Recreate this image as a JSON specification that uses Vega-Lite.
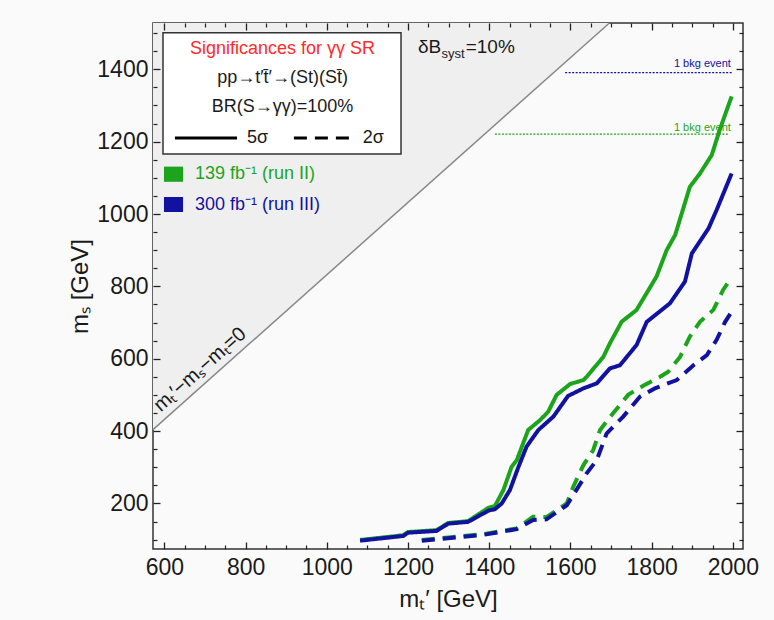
{
  "$schema": "https://vega.github.io/schema/vega-lite/v6.json",
  "width": 590,
  "height": 526,
  "autosize": {"type": "none"},
  "padding": {"left": 153, "top": 23, "right": 31, "bottom": 71},
  "background": "#fafafa",
  "config": {
    "view": {"stroke": "#333333", "strokeWidth": 1.5},
    "axis": {
      "domain": false, "grid": false,
      "labelFont": "Liberation Sans, Arial, sans-serif", "labelFontSize": 23, "labelColor": "#1a1a1a",
      "titleFont": "Liberation Sans, Arial, sans-serif", "titleFontSize": 24, "titleFontWeight": "normal",
      "titleColor": "#1a1a1a", "labelOverlap": false
    },
    "text": {"font": "Liberation Sans, Arial, sans-serif"}
  },
  "datasets": {
    "tri": [{"x": 572, "y": 404}, {"x": 1696, "y": 1528}],
    "curves": [
      {"lumi": "139", "sigma": "5σ", "x": 1082, "y": 99},
      {"lumi": "139", "sigma": "5σ", "x": 1188, "y": 112},
      {"lumi": "139", "sigma": "5σ", "x": 1200, "y": 121},
      {"lumi": "139", "sigma": "5σ", "x": 1270, "y": 126},
      {"lumi": "139", "sigma": "5σ", "x": 1299, "y": 146},
      {"lumi": "139", "sigma": "5σ", "x": 1348, "y": 151},
      {"lumi": "139", "sigma": "5σ", "x": 1398, "y": 188},
      {"lumi": "139", "sigma": "5σ", "x": 1414, "y": 193},
      {"lumi": "139", "sigma": "5σ", "x": 1435, "y": 237},
      {"lumi": "139", "sigma": "5σ", "x": 1455, "y": 301},
      {"lumi": "139", "sigma": "5σ", "x": 1468, "y": 320},
      {"lumi": "139", "sigma": "5σ", "x": 1496, "y": 403},
      {"lumi": "139", "sigma": "5σ", "x": 1525, "y": 430},
      {"lumi": "139", "sigma": "5σ", "x": 1545, "y": 453},
      {"lumi": "139", "sigma": "5σ", "x": 1566, "y": 500},
      {"lumi": "139", "sigma": "5σ", "x": 1599, "y": 530},
      {"lumi": "139", "sigma": "5σ", "x": 1632, "y": 541},
      {"lumi": "139", "sigma": "5σ", "x": 1640, "y": 550},
      {"lumi": "139", "sigma": "5σ", "x": 1681, "y": 605},
      {"lumi": "139", "sigma": "5σ", "x": 1697, "y": 642},
      {"lumi": "139", "sigma": "5σ", "x": 1726, "y": 702},
      {"lumi": "139", "sigma": "5σ", "x": 1763, "y": 735},
      {"lumi": "139", "sigma": "5σ", "x": 1812, "y": 827},
      {"lumi": "139", "sigma": "5σ", "x": 1837, "y": 900},
      {"lumi": "139", "sigma": "5σ", "x": 1858, "y": 942},
      {"lumi": "139", "sigma": "5σ", "x": 1894, "y": 1075},
      {"lumi": "139", "sigma": "5σ", "x": 1919, "y": 1112},
      {"lumi": "139", "sigma": "5σ", "x": 1948, "y": 1163},
      {"lumi": "139", "sigma": "5σ", "x": 1968, "y": 1234},
      {"lumi": "139", "sigma": "5σ", "x": 1997, "y": 1325},
      {"lumi": "139", "sigma": "2σ", "x": 1234, "y": 99},
      {"lumi": "139", "sigma": "2σ", "x": 1385, "y": 115},
      {"lumi": "139", "sigma": "2σ", "x": 1468, "y": 131},
      {"lumi": "139", "sigma": "2σ", "x": 1508, "y": 163},
      {"lumi": "139", "sigma": "2σ", "x": 1541, "y": 162},
      {"lumi": "139", "sigma": "2σ", "x": 1591, "y": 200},
      {"lumi": "139", "sigma": "2σ", "x": 1607, "y": 246},
      {"lumi": "139", "sigma": "2σ", "x": 1632, "y": 306},
      {"lumi": "139", "sigma": "2σ", "x": 1656, "y": 347},
      {"lumi": "139", "sigma": "2σ", "x": 1673, "y": 403},
      {"lumi": "139", "sigma": "2σ", "x": 1705, "y": 449},
      {"lumi": "139", "sigma": "2σ", "x": 1742, "y": 500},
      {"lumi": "139", "sigma": "2σ", "x": 1779, "y": 525},
      {"lumi": "139", "sigma": "2σ", "x": 1821, "y": 550},
      {"lumi": "139", "sigma": "2σ", "x": 1841, "y": 564},
      {"lumi": "139", "sigma": "2σ", "x": 1870, "y": 605},
      {"lumi": "139", "sigma": "2σ", "x": 1894, "y": 661},
      {"lumi": "139", "sigma": "2σ", "x": 1919, "y": 702},
      {"lumi": "139", "sigma": "2σ", "x": 1952, "y": 735},
      {"lumi": "139", "sigma": "2σ", "x": 1976, "y": 790},
      {"lumi": "139", "sigma": "2σ", "x": 1993, "y": 818},
      {"lumi": "300", "sigma": "5σ", "x": 1082, "y": 97},
      {"lumi": "300", "sigma": "5σ", "x": 1188, "y": 110},
      {"lumi": "300", "sigma": "5σ", "x": 1200, "y": 119},
      {"lumi": "300", "sigma": "5σ", "x": 1270, "y": 124},
      {"lumi": "300", "sigma": "5σ", "x": 1299, "y": 144},
      {"lumi": "300", "sigma": "5σ", "x": 1348, "y": 149},
      {"lumi": "300", "sigma": "5σ", "x": 1398, "y": 180},
      {"lumi": "300", "sigma": "5σ", "x": 1414, "y": 184},
      {"lumi": "300", "sigma": "5σ", "x": 1431, "y": 200},
      {"lumi": "300", "sigma": "5σ", "x": 1451, "y": 237},
      {"lumi": "300", "sigma": "5σ", "x": 1472, "y": 301},
      {"lumi": "300", "sigma": "5σ", "x": 1492, "y": 357},
      {"lumi": "300", "sigma": "5σ", "x": 1521, "y": 403},
      {"lumi": "300", "sigma": "5σ", "x": 1558, "y": 440},
      {"lumi": "300", "sigma": "5σ", "x": 1594, "y": 497},
      {"lumi": "300", "sigma": "5σ", "x": 1632, "y": 518},
      {"lumi": "300", "sigma": "5σ", "x": 1665, "y": 532},
      {"lumi": "300", "sigma": "5σ", "x": 1697, "y": 573},
      {"lumi": "300", "sigma": "5σ", "x": 1722, "y": 582},
      {"lumi": "300", "sigma": "5σ", "x": 1763, "y": 638},
      {"lumi": "300", "sigma": "5σ", "x": 1788, "y": 702},
      {"lumi": "300", "sigma": "5σ", "x": 1845, "y": 753},
      {"lumi": "300", "sigma": "5σ", "x": 1882, "y": 813},
      {"lumi": "300", "sigma": "5σ", "x": 1899, "y": 891},
      {"lumi": "300", "sigma": "5σ", "x": 1940, "y": 960},
      {"lumi": "300", "sigma": "5σ", "x": 1960, "y": 1011},
      {"lumi": "300", "sigma": "5σ", "x": 1997, "y": 1112},
      {"lumi": "300", "sigma": "2σ", "x": 1234, "y": 97},
      {"lumi": "300", "sigma": "2σ", "x": 1385, "y": 113},
      {"lumi": "300", "sigma": "2σ", "x": 1468, "y": 129},
      {"lumi": "300", "sigma": "2σ", "x": 1508, "y": 154},
      {"lumi": "300", "sigma": "2σ", "x": 1541, "y": 156},
      {"lumi": "300", "sigma": "2σ", "x": 1591, "y": 195},
      {"lumi": "300", "sigma": "2σ", "x": 1607, "y": 223},
      {"lumi": "300", "sigma": "2σ", "x": 1640, "y": 283},
      {"lumi": "300", "sigma": "2σ", "x": 1665, "y": 320},
      {"lumi": "300", "sigma": "2σ", "x": 1689, "y": 393},
      {"lumi": "300", "sigma": "2σ", "x": 1730, "y": 440},
      {"lumi": "300", "sigma": "2σ", "x": 1771, "y": 495},
      {"lumi": "300", "sigma": "2σ", "x": 1808, "y": 518},
      {"lumi": "300", "sigma": "2σ", "x": 1862, "y": 541},
      {"lumi": "300", "sigma": "2σ", "x": 1903, "y": 582},
      {"lumi": "300", "sigma": "2σ", "x": 1936, "y": 610},
      {"lumi": "300", "sigma": "2σ", "x": 1960, "y": 652},
      {"lumi": "300", "sigma": "2σ", "x": 1981, "y": 702},
      {"lumi": "300", "sigma": "2σ", "x": 1997, "y": 730}
    ],
    "bkg": [
      {"lumi": "300", "x": 1587, "y": 1390.6},
      {"lumi": "300", "x": 2000, "y": 1390.6},
      {"lumi": "139", "x": 1414, "y": 1221},
      {"lumi": "139", "x": 1988, "y": 1221}
    ],
    "bkglabels": [
      {"lumi": "300", "label": "1 bkg event", "x": 1995, "y": 1414},
      {"lumi": "139", "label": "1 bkg event", "x": 1995, "y": 1237}
    ],
    "box": [{"x": 596.6, "x2": 1182.8, "y": 1501.2, "y2": 1165.8}],
    "boxtitle": [{"label": "Significances for γγ SR", "x": 891, "y": 1456}],
    "boxtext": [
      {"label": "pp→t′t̄′→(St)(St̄)", "x": 891, "y": 1376},
      {"label": "BR(S→γγ)=100%", "x": 891, "y": 1296}
    ],
    "samples": [
      {"sigma": "5σ", "x": 626, "y": 1210},
      {"sigma": "5σ", "x": 779, "y": 1210},
      {"sigma": "2σ", "x": 919, "y": 1210},
      {"sigma": "2σ", "x": 1065, "y": 1210}
    ],
    "samplelabels": [
      {"label": "5σ", "x": 803.5, "y": 1210},
      {"label": "2σ", "x": 1088.6, "y": 1210}
    ],
    "swatches": [
      {"lumi": "139", "x": 599, "x2": 646, "y": 1131, "y2": 1089},
      {"lumi": "300", "x": 599, "x2": 646, "y": 1047, "y2": 1005.5}
    ],
    "lumilabels": [
      {"lumi": "139", "label": "139 fb⁻¹ (run II)", "x": 675.4, "y": 1110.5},
      {"lumi": "300", "label": "300 fb⁻¹ (run III)", "x": 675.4, "y": 1026.2}
    ],
    "systmain": [
      {"label": "δB", "x": 1224.7, "y": 1461.6},
      {"label": "=10%", "x": 1342, "y": 1461.6}
    ],
    "systsub": [{"label": "syst", "x": 1282.6, "y": 1442.3}],
    "diag": [{"label": "mₜ′−mₛ−mₜ=0", "x": 688, "y": 570}]
  },
  "resolve": {"axis": {"x": "independent", "y": "independent"}},
  "layer": [
    {
      "data": {"name": "tri"},
      "mark": {"type": "area", "color": "#efefef"},
      "encoding": {
        "x": {"field": "x", "type": "quantitative", "scale": {"domain": [572, 2025], "nice": false, "zero": false},
          "axis": {"orient": "bottom", "values": [600, 800, 1000, 1200, 1400, 1600, 1800, 2000], "format": "d", "offset": -7, "tickSize": 7, "tickColor": "#222222", "tickWidth": 1.3, "zindex": 1, "labelPadding": 7, "title": "mₜ′ [GeV]", "titlePadding": 8}},
        "y": {"field": "y", "type": "quantitative", "scale": {"domain": [74, 1528], "nice": false, "zero": false},
          "axis": {"orient": "left", "values": [200, 400, 600, 800, 1000, 1200, 1400], "format": "d", "offset": -7, "tickSize": 7, "tickColor": "#222222", "tickWidth": 1.3, "zindex": 1, "labelPadding": 5, "title": "mₛ [GeV]", "titlePadding": 4}},
        "y2": {"datum": 1528}
      }
    },
    {
      "data": {"name": "tri"},
      "mark": {"type": "line", "color": "#888888", "strokeWidth": 1.5},
      "encoding": {
        "x": {"field": "x", "type": "quantitative", "scale": {"domain": [572, 2025], "nice": false, "zero": false},
          "axis": {"orient": "bottom", "values": [650, 700, 750, 850, 900, 950, 1050, 1100, 1150, 1250, 1300, 1350, 1450, 1500, 1550, 1650, 1700, 1750, 1850, 1900, 1950], "offset": -4, "tickSize": 4, "tickColor": "#222222", "tickWidth": 1.2, "zindex": 1, "labels": false, "title": null}},
        "y": {"field": "y", "type": "quantitative", "scale": {"domain": [74, 1528], "nice": false, "zero": false},
          "axis": {"orient": "left", "values": [100, 150, 250, 300, 350, 450, 500, 550, 650, 700, 750, 850, 900, 950, 1050, 1100, 1150, 1250, 1300, 1350, 1450, 1500], "offset": -4, "tickSize": 4, "tickColor": "#222222", "tickWidth": 1.2, "zindex": 1, "labels": false, "title": null}}
      }
    },
    {
      "data": {"name": "bkg"},
      "mark": {"type": "line", "strokeWidth": 1.3, "strokeDash": [2, 1.5]},
      "encoding": {
        "x": {"field": "x", "type": "quantitative", "scale": {"domain": [572, 2025], "nice": false, "zero": false},
          "axis": {"orient": "top", "values": [600, 800, 1000, 1200, 1400, 1600, 1800, 2000], "offset": -7, "tickSize": 7, "tickColor": "#222222", "tickWidth": 1.3, "zindex": 1, "labels": false, "title": null}},
        "y": {"field": "y", "type": "quantitative", "scale": {"domain": [74, 1528], "nice": false, "zero": false},
          "axis": {"orient": "right", "values": [200, 400, 600, 800, 1000, 1200, 1400], "offset": -7, "tickSize": 7, "tickColor": "#222222", "tickWidth": 1.3, "zindex": 1, "labels": false, "title": null}},
        "color": {"field": "lumi", "type": "nominal", "scale": {"domain": ["139", "300"], "range": ["#1ca51c", "#1212a0"]}, "legend": null}
      }
    },
    {
      "data": {"name": "curves"},
      "mark": {"type": "line", "strokeWidth": 4},
      "encoding": {
        "x": {"field": "x", "type": "quantitative", "scale": {"domain": [572, 2025], "nice": false, "zero": false},
          "axis": {"orient": "top", "values": [650, 700, 750, 850, 900, 950, 1050, 1100, 1150, 1250, 1300, 1350, 1450, 1500, 1550, 1650, 1700, 1750, 1850, 1900, 1950], "offset": -4, "tickSize": 4, "tickColor": "#222222", "tickWidth": 1.2, "zindex": 1, "labels": false, "title": null}},
        "y": {"field": "y", "type": "quantitative", "scale": {"domain": [74, 1528], "nice": false, "zero": false},
          "axis": {"orient": "right", "values": [100, 150, 250, 300, 350, 450, 500, 550, 650, 700, 750, 850, 900, 950, 1050, 1100, 1150, 1250, 1300, 1350, 1450, 1500], "offset": -4, "tickSize": 4, "tickColor": "#222222", "tickWidth": 1.2, "zindex": 1, "labels": false, "title": null}},
        "color": {"field": "lumi", "type": "nominal", "legend": null},
        "strokeDash": {"field": "sigma", "type": "nominal", "scale": {"domain": ["5σ", "2σ"], "range": [[1, 0], [13, 8]]}, "legend": null},
        "order": {"field": "x", "type": "quantitative"}
      }
    },
    {
      "data": {"name": "bkglabels"},
      "mark": {"type": "text", "align": "right", "baseline": "middle", "fontSize": 11},
      "encoding": {
        "x": {"field": "x", "type": "quantitative", "axis": null},
        "y": {"field": "y", "type": "quantitative", "axis": null},
        "text": {"field": "label"},
        "color": {"field": "lumi", "type": "nominal", "legend": null}
      }
    },
    {
      "data": {"name": "box"},
      "mark": {"type": "rect", "fill": "#ffffff", "stroke": "#333333", "strokeWidth": 1.5},
      "encoding": {
        "x": {"field": "x", "type": "quantitative", "axis": null},
        "y": {"field": "y", "type": "quantitative", "axis": null},
        "x2": {"field": "x2"},
        "y2": {"field": "y2"}
      }
    },
    {
      "data": {"name": "boxtitle"},
      "mark": {"type": "text", "align": "center", "baseline": "middle", "fontSize": 18, "color": "#ff2a2a"},
      "encoding": {
        "x": {"field": "x", "type": "quantitative", "axis": null},
        "y": {"field": "y", "type": "quantitative", "axis": null},
        "text": {"field": "label"}
      }
    },
    {
      "data": {"name": "boxtext"},
      "mark": {"type": "text", "align": "center", "baseline": "middle", "fontSize": 18, "color": "#1a1a1a"},
      "encoding": {
        "x": {"field": "x", "type": "quantitative", "axis": null},
        "y": {"field": "y", "type": "quantitative", "axis": null},
        "text": {"field": "label"}
      }
    },
    {
      "data": {"name": "samples"},
      "mark": {"type": "line", "strokeWidth": 3, "color": "#000000"},
      "encoding": {
        "x": {"field": "x", "type": "quantitative", "axis": null},
        "y": {"field": "y", "type": "quantitative", "axis": null},
        "strokeDash": {"field": "sigma", "type": "nominal", "legend": null}
      }
    },
    {
      "data": {"name": "samplelabels"},
      "mark": {"type": "text", "align": "left", "baseline": "middle", "fontSize": 18, "color": "#1a1a1a"},
      "encoding": {
        "x": {"field": "x", "type": "quantitative", "axis": null},
        "y": {"field": "y", "type": "quantitative", "axis": null},
        "text": {"field": "label"}
      }
    },
    {
      "data": {"name": "swatches"},
      "mark": {"type": "rect"},
      "encoding": {
        "x": {"field": "x", "type": "quantitative", "axis": null},
        "y": {"field": "y", "type": "quantitative", "axis": null},
        "x2": {"field": "x2"},
        "y2": {"field": "y2"},
        "color": {"field": "lumi", "type": "nominal", "legend": null}
      }
    },
    {
      "data": {"name": "lumilabels"},
      "mark": {"type": "text", "align": "left", "baseline": "middle", "fontSize": 18},
      "encoding": {
        "x": {"field": "x", "type": "quantitative", "axis": null},
        "y": {"field": "y", "type": "quantitative", "axis": null},
        "text": {"field": "label"},
        "color": {"field": "lumi", "type": "nominal", "legend": null}
      }
    },
    {
      "data": {"name": "systmain"},
      "mark": {"type": "text", "align": "left", "baseline": "middle", "fontSize": 19, "color": "#1a1a1a"},
      "encoding": {
        "x": {"field": "x", "type": "quantitative", "axis": null},
        "y": {"field": "y", "type": "quantitative", "axis": null},
        "text": {"field": "label"}
      }
    },
    {
      "data": {"name": "systsub"},
      "mark": {"type": "text", "align": "left", "baseline": "middle", "fontSize": 13, "color": "#1a1a1a"},
      "encoding": {
        "x": {"field": "x", "type": "quantitative", "axis": null},
        "y": {"field": "y", "type": "quantitative", "axis": null},
        "text": {"field": "label"}
      }
    },
    {
      "data": {"name": "diag"},
      "mark": {"type": "text", "align": "center", "baseline": "middle", "fontSize": 20, "angle": -41.7, "color": "#1a1a1a"},
      "encoding": {
        "x": {"field": "x", "type": "quantitative", "axis": null},
        "y": {"field": "y", "type": "quantitative", "axis": null},
        "text": {"field": "label"}
      }
    }
  ]
}
